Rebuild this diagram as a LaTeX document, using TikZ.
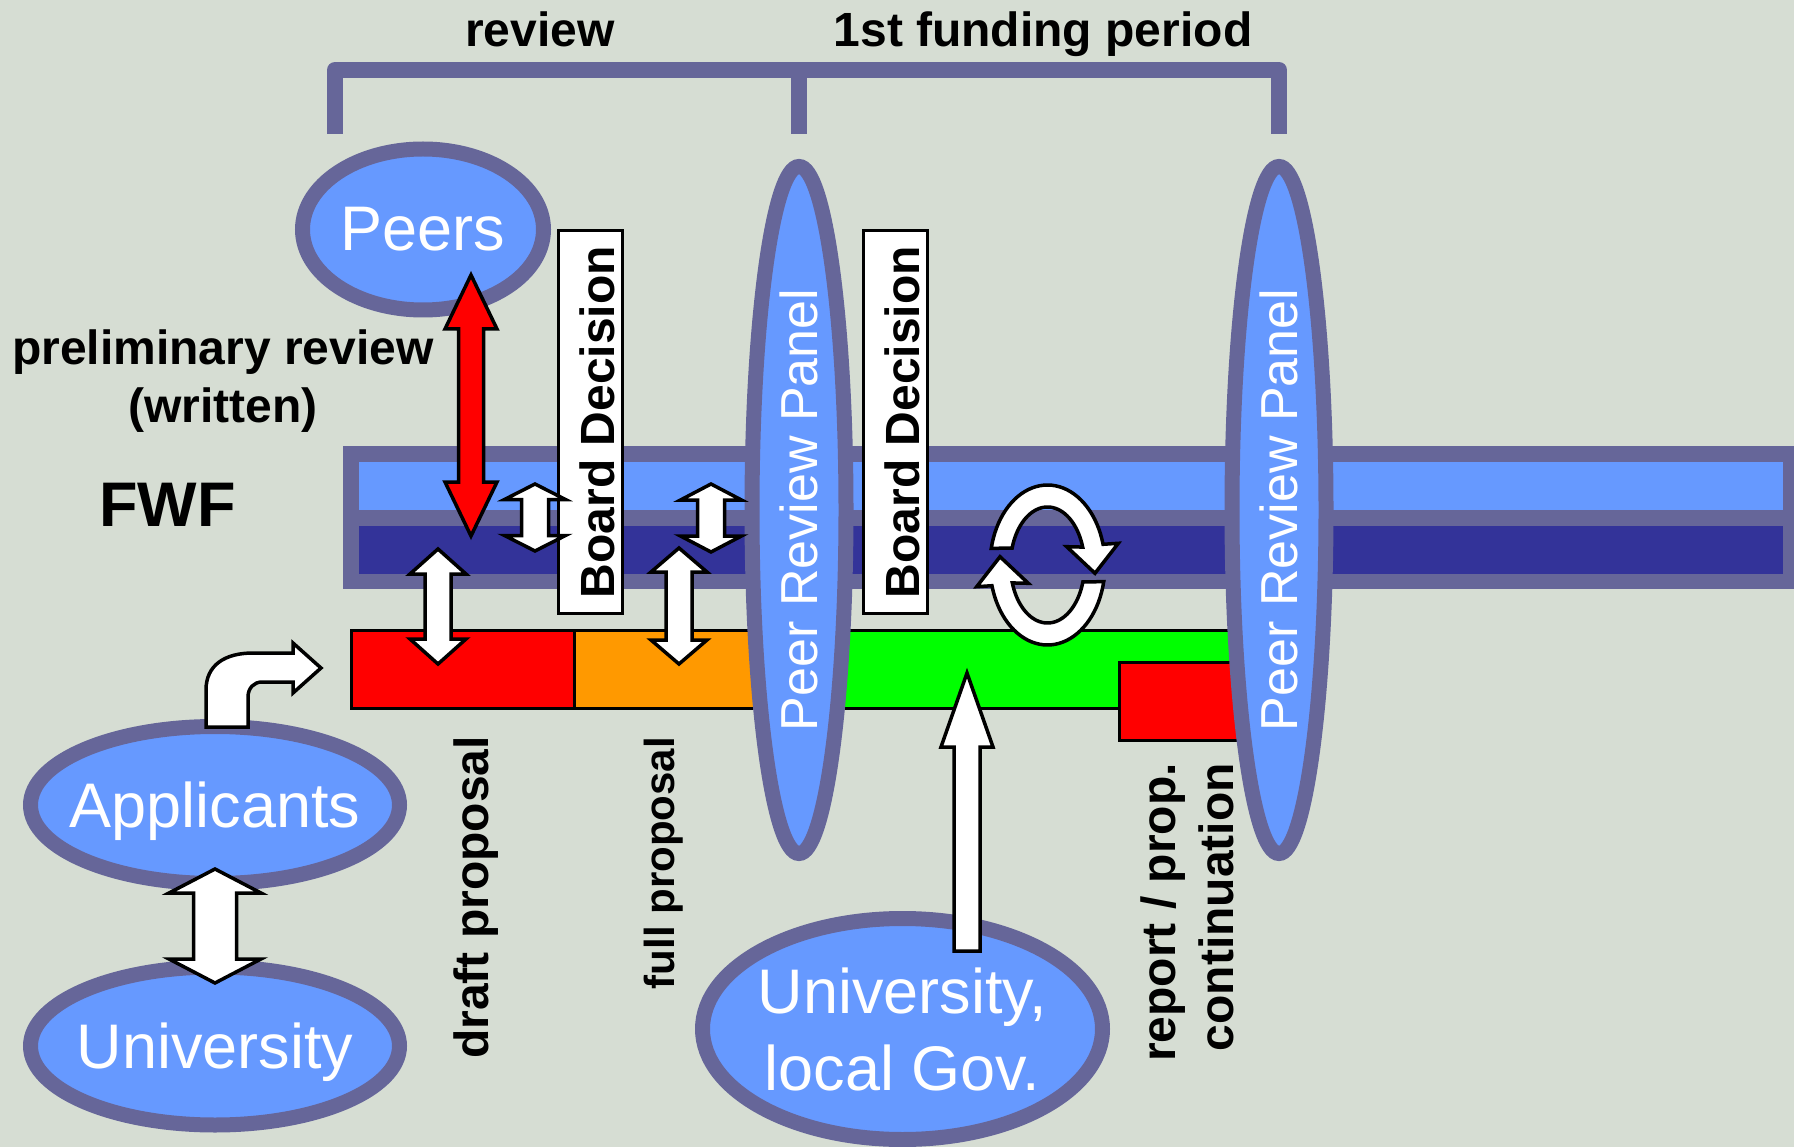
\documentclass[tikz,border=0pt]{standalone}
\usepackage{fontspec}
\setmainfont{Liberation Sans}
\usetikzlibrary{shapes.geometric}
\definecolor{bgc}{RGB}{214,221,211}
\definecolor{purp}{RGB}{102,102,153}
\definecolor{lblue}{RGB}{102,153,255}
\definecolor{dblue}{RGB}{51,51,153}
\definecolor{orng}{RGB}{255,153,0}
\definecolor{grn}{RGB}{0,255,0}
\definecolor{rd}{RGB}{255,0,0}
\newcommand\FSbig{\fontsize{63}{77}\selectfont}
\newcommand\FSbold{\fontsize{48}{58}\selectfont\bfseries}
\newcommand\FSfwf{\fontsize{63}{77}\selectfont\bfseries}
\newcommand\FSpanel{\fontsize{52}{62}\selectfont}
\newcommand\FSfull{\fontsize{42}{50}\selectfont\bfseries}
\newcommand\zbox[1]{\makebox[0pt]{#1}}
% vertical double block arrow: cx, ytop, ybot, shaft half width, head half width, head length, fill
\newcommand\vdarrow[7]{%
 \filldraw[blk,fill=#7] (#1,#2) -- ({#1+#5},{#2+#6}) -- ({#1+#4},{#2+#6}) -- ({#1+#4},{#3-#6}) -- ({#1+#5},{#3-#6}) -- (#1,#3) -- ({#1-#5},{#3-#6}) -- ({#1-#4},{#3-#6}) -- ({#1-#4},{#2+#6}) -- ({#1-#5},{#2+#6}) -- cycle;}
\begin{document}
\begin{tikzpicture}[x=1pt,y=-1pt,
  bubble/.style={ellipse, draw=purp, line width=15pt, fill=lblue, text=white, inner sep=0pt, font=\FSbig},
  panel/.style={ellipse, draw=purp, line width=15pt, fill=lblue, text=white, rotate=90, inner sep=0pt, font=\FSpanel},
  board/.style={rectangle, draw=black, line width=3pt, fill=white, rotate=90, inner sep=0pt, font=\FSbold, text height=48pt, text depth=0pt},
  blk/.style={draw=black, line width=3.5pt, line join=miter},
  bar/.style={draw=black, line width=3pt},
  lbl/.style={inner sep=0pt, font=\FSbold, text=black}]
\useasboundingbox (0,0) rectangle (1794,1147);
\fill[bgc] (0,0) rectangle (1794,1147);

% bracket
\draw[purp, line width=16pt, line join=round] (335,134) -- (335,70) -- (1279,70) -- (1279,134);
\draw[purp, line width=16pt] (799,70) -- (799,134);

% labels
\node[lbl, anchor=base] (trev) at (540,47) {review};
\node[lbl, anchor=base] (tfund) at (1043,47) {1st funding period};
\node[lbl, anchor=base] (tpre) at (223,365) {preliminary review};
\node[lbl, anchor=base] (twr) at (223,423) {(written)};
\node[lbl, font=\FSfwf, anchor=base] (tfwf) at (167.5,526) {FWF};
\node[lbl, rotate=90, anchor=base east] (tdraft) at (488,736) {draft proposal};
\node[lbl, font=\FSfull, rotate=90, anchor=base east] (tfull) at (674,737) {full proposal};
\node[lbl, rotate=90, anchor=base east] (trep) at (1175,763) {report / prop.};
\node[lbl, rotate=90, anchor=base east] (tcont) at (1233,763) {continuation};

% FWF bar
\fill[purp] (343,446) rectangle (1800,589);
\fill[lblue] (359,462) rectangle (1783,510);
\fill[dblue] (359,526) rectangle (1783,574);

% process bar
\filldraw[bar, fill=rd] (351.5,630) rectangle (574,708);
\filldraw[bar, fill=orng] (574,630) rectangle (790,708);
\filldraw[bar, fill=grn] (790,630) rectangle (1275,708);
\filldraw[bar, fill=rd] (1119.5,662.5) rectangle (1268,740.5);

% board decisions
\node[board, minimum width=383pt, minimum height=64pt] (bd1) at (590.5,422) {Board Decision};
\node[board, minimum width=383pt, minimum height=64pt] (bd2) at (895,422) {Board Decision};

% peer review panels
\node[panel, minimum width=687pt, minimum height=94pt] (prp1) at (799,510) {\zbox{Peer Review Panel}};
\node[panel, minimum width=687pt, minimum height=94pt] (prp2) at (1279,510) {\zbox{Peer Review Panel}};

% cycle arrows
\filldraw[blk, fill=white] plot[domain=192:345, samples=40] ({1047.5+57.5*cos(\x)},{565+80*sin(\x)})
  -- (1118.3,543.3) -- (1095,573.3) -- (1066.7,546.7)
  -- plot[domain=342:197, samples=40] ({1047.5+37*cos(\x)},{565+58*sin(\x)}) -- cycle;
\filldraw[blk, fill=white] plot[domain=12:165, samples=40] ({1047.5+57.5*cos(\x)},{565+80*sin(\x)})
  -- (976.7,586.7) -- (1000,556.7) -- (1028.3,583.3)
  -- plot[domain=162:17, samples=40] ({1047.5+37*cos(\x)},{565+58*sin(\x)}) -- cycle;

% bubbles
\node[bubble, minimum width=241pt, minimum height=161pt] (peers) at (423,229.5) {\zbox{Peers}};
\node[bubble, minimum width=369pt, minimum height=157pt, text depth=0pt] (appl) at (215,805) {\zbox{Applicants}};
\node[bubble, minimum width=369pt, minimum height=158pt, text depth=0pt] (univ) at (215,1046) {\zbox{University}};
\node[bubble, minimum width=400pt, minimum height=221pt, align=center] (gov) at (902.5,1029) {\zbox{University,}\\\zbox{local Gov.}};

% block arrows
\vdarrow{471}{275}{536}{12.5}{26}{54}{rd}
\vdarrow{438}{549}{664}{13}{28}{25}{white}
\vdarrow{679}{548}{664}{13}{28}{24}{white}
\vdarrow{535}{484}{551}{13.5}{30.5}{15.5}{white}
\vdarrow{711}{484}{552}{13.5}{30.5}{16}{white}
\vdarrow{215}{869}{983}{21.5}{46}{24}{white}
\filldraw[blk, fill=white] (967,673) -- (993,747) -- (980,747) -- (980,951) -- (954,951) -- (954,747) -- (941,747) -- cycle;
\filldraw[blk, fill=white] (206,727) -- (206,690) .. controls (206,665) and (225,653) .. (253,653) -- (293,653) -- (293,643) -- (321,668) -- (293,693) -- (293,682) -- (262,682) .. controls (254,682) and (248,688) .. (248,697) -- (248,727) -- cycle;
\end{tikzpicture}
\end{document}
